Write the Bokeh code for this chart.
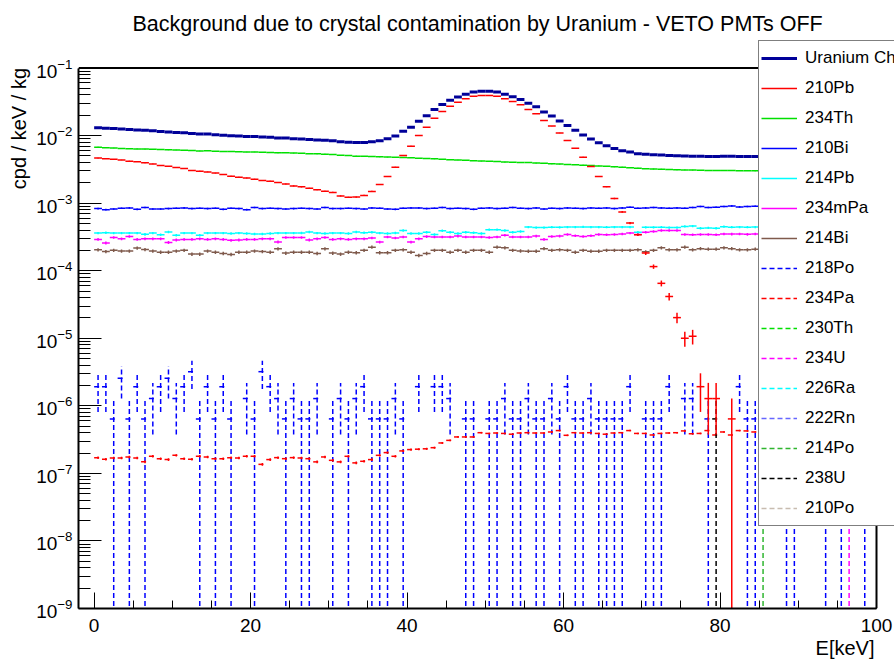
import numpy as np
from bokeh.embed import file_html
from bokeh.models import (ColumnDataSource, FixedTicker, Legend, LegendItem, Range1d,
                          SingleIntervalTicker, Title)
from bokeh.plotting import figure
from bokeh.resources import INLINE

FONT = "Liberation Sans"

# 100 bins of 1 keV between 0 and 100 keV (lower edges)
bin_lo = list(range(100))
X_MIN, X_MAX = -2.0, 100.0
Y_MIN, Y_MAX = 1e-9, 1e-1

# rate carried by one simulated event, cpd/keV/kg
event_weight = 6.4e-7
# 234Pa was simulated with far higher statistics
pa234_event_weight = 3e-10

# ---- per-isotope spectra, cpd/keV/kg ----
pb210 = [
    4.64e-3, 4.55e-3, 4.45e-3, 4.35e-3, 4.17e-3, 4.10e-3, 3.95e-3, 3.80e-3, 3.62e-3, 3.50e-3,
    3.38e-3, 3.25e-3, 3.05e-3, 2.97e-3, 2.90e-3, 2.78e-3, 2.66e-3, 2.50e-3, 2.42e-3, 2.35e-3,
    2.25e-3, 2.17e-3, 2.10e-3, 2.02e-3, 1.92e-3, 1.80e-3, 1.74e-3, 1.66e-3, 1.58e-3, 1.50e-3,
    1.44e-3, 1.28e-3, 1.22e-3, 1.23e-3, 1.30e-3, 1.49e-3, 1.89e-3, 2.48e-3, 3.41e-3, 5.08e-3,
    6.97e-3, 1.00e-2, 1.33e-2, 1.81e-2, 2.27e-2, 2.72e-2, 3.12e-2, 3.50e-2, 3.83e-2, 3.92e-2,
    3.92e-2, 3.83e-2, 3.50e-2, 3.19e-2, 2.85e-2, 2.43e-2, 2.10e-2, 1.67e-2, 1.38e-2, 1.09e-2,
    8.46e-3, 6.50e-3, 4.79e-3, 3.49e-3, 2.48e-3, 1.75e-3, 1.17e-3, 7.40e-4, 5.06e-4, 3.40e-4,
    1.82e-4, 1.15e-4, 6.50e-5, 4.15e-5, 2.02e-5, 1.00e-5, 1.07e-5, 1.92e-6, 1.28e-6, 1.28e-6,
    0.0, 6.4e-7, 0.0, 0.0, 0.0, 0.0, 0.0, 0.0, 0.0, 0.0,
    0.0, 0.0, 0.0, 0.0, 0.0, 0.0, 0.0, 0.0, 0.0, 0.0,
]

# 234Th, in units of 1e-3 cpd/keV/kg
th234_e3 = [
    6.74, 6.62, 6.55, 6.45, 6.40, 6.35, 6.30, 6.28, 6.20, 6.15,
    6.10, 6.05, 6.00, 5.92, 5.95, 5.85, 5.80, 5.82, 5.76, 5.72,
    5.70, 5.65, 5.62, 5.55, 5.58, 5.50, 5.45, 5.40, 5.36, 5.30,
    5.25, 5.12, 5.05, 4.95, 4.92, 4.88, 4.85, 4.80, 4.76, 4.72,
    4.70, 4.62, 4.58, 4.52, 4.45, 4.40, 4.35, 4.30, 4.25, 4.20,
    4.15, 4.12, 4.05, 4.02, 4.00, 3.98, 3.92, 3.88, 3.82, 3.78,
    3.74, 3.70, 3.65, 3.60, 3.55, 3.50, 3.45, 3.40, 3.35, 3.28,
    3.24, 3.20, 3.18, 3.15, 3.12, 3.10, 3.08, 3.06, 3.05, 3.04,
    3.04, 3.03, 3.02, 3.02, 3.01, 3.00, 3.00, 2.99, 2.99, 2.98,
    2.98, 2.97, 2.97, 2.96, 2.96, 2.95, 2.95, 2.95, 2.94, 2.94,
]

# 210Bi, in units of 1e-4 cpd/keV/kg
bi210_e4 = [
    8.3, 8.0, 8.2, 8.4, 8.5, 8.1, 8.6, 8.2, 8.2, 8.3,
    8.4, 8.5, 8.3, 8.4, 8.3, 8.4, 8.1, 8.4, 8.3, 8.0,
    8.6, 8.3, 8.4, 8.3, 8.2, 8.3, 8.4, 8.3, 8.2, 8.6,
    8.3, 8.3, 8.4, 8.3, 8.2, 8.5, 8.4, 8.2, 8.1, 8.4,
    8.5, 8.5, 8.3, 8.4, 8.6, 8.3, 8.4, 8.3, 8.1, 8.4,
    8.5, 8.3, 8.4, 8.6, 8.4, 8.3, 8.5, 8.2, 8.4, 8.3,
    8.5, 8.4, 8.3, 8.5, 8.4, 8.5, 8.3, 8.5, 8.7, 8.4,
    8.5, 8.6, 8.5, 8.4, 8.5, 8.4, 8.6, 8.9, 8.6, 8.7,
    8.9, 9.1, 8.8, 8.9, 9.0, 8.9, 9.0, 8.8, 9.0, 8.9,
    9.1, 8.9, 9.0, 8.9, 9.1, 9.0, 8.9, 9.1, 9.0, 9.0,
]

# 214Pb, in units of 1e-4 cpd/keV/kg
pb214_e4 = [
    3.60, 3.65, 3.60, 3.60, 3.60, 3.60, 3.45, 3.60, 3.40, 3.73,
    3.35, 3.60, 3.60, 3.35, 3.60, 3.60, 3.60, 3.55, 3.60, 3.55,
    3.50, 3.50, 3.55, 3.60, 3.60, 3.60, 3.62, 3.73, 3.60, 3.55,
    3.60, 3.60, 3.55, 3.73, 3.65, 3.72, 3.60, 3.55, 3.62, 3.94,
    3.55, 3.55, 3.72, 3.44, 3.90, 3.72, 3.55, 3.72, 3.65, 3.55,
    4.05, 4.05, 3.94, 3.72, 3.80, 4.42, 4.35, 4.35, 4.40, 4.38,
    4.42, 4.42, 4.45, 4.42, 4.42, 4.40, 4.42, 4.42, 4.42, 3.72,
    4.38, 4.38, 4.40, 4.35, 4.35, 4.52, 4.58, 4.25, 4.30, 4.25,
    4.48, 4.40, 4.42, 4.40, 4.42, 4.40, 4.44, 4.42, 4.45, 4.40,
    4.42, 4.45, 4.40, 4.44, 4.42, 4.45, 4.40, 4.42, 4.44, 4.42,
]

# 234mPa, in units of 1e-4 cpd/keV/kg
pa234m_e4 = [
    2.90, 2.57, 3.10, 2.97, 3.21, 2.90, 2.97, 2.97, 2.97, 2.62,
    2.85, 2.90, 2.90, 2.97, 2.90, 2.97, 2.90, 2.81, 2.85, 2.90,
    2.90, 2.97, 2.97, 2.66, 3.10, 3.10, 3.10, 2.85, 2.97, 3.10,
    2.90, 2.97, 2.90, 2.97, 2.97, 3.05, 2.65, 3.15, 3.05, 3.15,
    2.65, 2.97, 3.20, 3.15, 3.15, 3.15, 3.25, 3.15, 3.15, 3.15,
    3.10, 3.15, 3.35, 3.15, 3.15, 3.15, 3.25, 2.90, 3.21, 3.25,
    3.44, 3.30, 3.21, 3.30, 3.44, 3.40, 3.44, 3.50, 3.60, 3.44,
    3.70, 3.80, 3.94, 3.94, 3.94, 3.44, 3.40, 3.44, 3.44, 3.40,
    3.50, 3.48, 3.50, 3.45, 3.50, 3.46, 3.50, 3.48, 3.50, 3.46,
    3.50, 3.48, 3.52, 3.46, 3.50, 3.48, 3.50, 3.46, 3.50, 3.48,
]

# 214Bi, in units of 1e-4 cpd/keV/kg
bi214_e4 = [
    2.04, 1.92, 2.00, 1.95, 1.95, 2.16, 2.06, 1.95, 1.88, 1.88,
    1.95, 2.00, 1.76, 1.76, 1.95, 1.88, 1.80, 1.74, 1.88, 1.88,
    1.95, 1.92, 1.88, 2.11, 1.82, 1.88, 1.88, 1.88, 1.80, 2.11,
    1.82, 1.76, 1.88, 1.85, 2.00, 2.23, 1.85, 1.85, 2.00, 2.04,
    1.88, 1.68, 1.80, 2.00, 2.00, 1.88, 2.00, 1.88, 2.00, 2.00,
    1.88, 2.23, 2.18, 2.00, 1.96, 1.94, 1.94, 2.12, 2.00, 2.04,
    2.00, 1.88, 2.00, 1.94, 1.94, 2.00, 2.00, 2.00, 2.00, 2.04,
    1.90, 2.00, 2.18, 2.04, 2.04, 2.23, 2.04, 2.12, 2.08, 2.08,
    2.18, 2.12, 2.04, 2.04, 2.08, 2.10, 2.06, 2.08, 2.10, 2.06,
    2.08, 2.10, 2.06, 2.10, 2.08, 2.06, 2.10, 2.08, 2.06, 2.08,
]

# 234Pa, in units of 1e-7 cpd/keV/kg
pa234_e7 = [
    1.71, 1.62, 1.69, 1.69, 1.75, 1.69, 1.48, 1.79, 1.65, 1.60,
    1.85, 1.65, 1.62, 1.79, 1.75, 1.65, 1.65, 1.71, 1.69, 1.79,
    1.79, 1.36, 1.60, 1.71, 1.65, 1.71, 1.69, 1.65, 1.48, 1.75,
    1.56, 1.48, 1.79, 1.43, 1.51, 1.60, 1.85, 2.03, 1.79, 2.15,
    2.25, 2.28, 2.31, 2.40, 2.82, 3.08, 3.46, 3.46, 3.46, 4.00,
    3.90, 3.96, 3.90, 3.80, 3.96, 4.00, 3.96, 3.96, 4.10, 4.30,
    3.66, 4.00, 3.96, 4.00, 3.90, 3.80, 3.96, 4.00, 4.30, 3.90,
    3.90, 3.70, 3.90, 3.96, 4.00, 4.25, 3.86, 3.90, 4.30, 3.70,
    4.10, 3.70, 4.30, 4.25, 4.10, 4.00, 4.05, 3.95, 4.00, 4.05,
    4.00, 3.95, 4.05, 4.00, 4.10, 3.95, 4.00, 4.05, 4.00, 3.95,
]

# 218Po: simulated events per bin
po218_counts = [
    3, 3, 1, 4, 1, 3, 1, 2, 3, 4,
    2, 3, 5, 1, 3, 1, 3, 1, 0, 2,
    1, 5, 3, 2, 1, 2, 1, 1, 2, 0,
    1, 2, 1, 2, 3, 1, 1, 1, 2, 1,
    0, 3, 0, 3, 3, 2, 0, 1, 1, 0,
    1, 1, 2, 1, 1, 2, 1, 1, 2, 1,
    3, 1, 1, 2, 1, 1, 1, 1, 3, 0,
    1, 1, 1, 3, 0, 2, 2, 0, 1, 0,
    0, 0, 3, 1, 1, 0, 2, 0, 1, 1,
    0, 2, 0, 1, 0, 1, 0, 2, 1, 0,
]

# isotopes with only a few events: occupied bins and event counts
u238_bins, u238_counts = [79], [1]
po214_bins, po214_counts = [85], [1]
u234_bins, u234_counts = [96], [1]

LABELS = ["Uranium Chain", "210Pb", "234Th", "210Bi", "214Pb", "234mPa", "214Bi",
          "218Po", "234Pa", "230Th", "234U", "226Ra", "222Rn", "214Po", "238U", "210Po"]
COLORS = ["#000099", "#ff0000", "#00e000", "#0000ff", "#00ffff", "#ff00ff", "#7f5a4c",
          "#0000ff", "#ff0000", "#00e000", "#ff00ff", "#00ffff", "#6666ff", "#2fb52f",
          "#000000", "#c8bcb0"]
DASH = "5 3"


def sparse_to_bins(bins, counts):
    out = np.zeros(100)
    for b, c in zip(bins, counts):
        out[b] = c * event_weight
    return out


# spectra in cpd/keV/kg with their statistical errors
v_pb210 = np.array(pb210)
v_th234 = np.array(th234_e3) * 1e-3
v_bi210 = np.array(bi210_e4) * 1e-4
v_pb214 = np.array(pb214_e4) * 1e-4
v_pa234m = np.array(pa234m_e4) * 1e-4
v_bi214 = np.array(bi214_e4) * 1e-4
v_pa234 = np.array(pa234_e7) * 1e-7
v_po218 = np.array(po218_counts) * event_weight
v_u238 = sparse_to_bins(u238_bins, u238_counts)
v_po214 = sparse_to_bins(po214_bins, po214_counts)
v_u234 = sparse_to_bins(u234_bins, u234_counts)


def poisson_err(v, w=event_weight):
    return np.sqrt(np.asarray(v) * w)


members = [v_pb210, v_th234, v_bi210, v_pb214, v_pa234m, v_bi214,
           v_po218, v_pa234, v_u238, v_po214, v_u234]
errs = [poisson_err(v) for v in members]
errs[7] = poisson_err(v_pa234, pa234_event_weight)
# the chain total is the sum of all its members
v_chain = np.sum(members, axis=0)
e_chain = np.sqrt(np.sum([e ** 2 for e in errs], axis=0))

# The drawing area reaches past the axes' box (up to y=40 px and to the
# right edge) so that the legend box can overhang the frame.
FRAME_LEFT, FRAME_TOP, FRAME_W, FRAME_H = 78, 40, 816, 568
px_per_kev = 798.0 / (X_MAX - X_MIN)
px_per_dec = 540.5 / (np.log10(Y_MAX) - np.log10(Y_MIN))
x_end = X_MIN + FRAME_W / px_per_kev
y_end = Y_MAX * 10 ** ((FRAME_H - 540.5) / px_per_dec)
# distance of the axes' box top / right sides from the drawing-area edges
top_gap = FRAME_H - 540.5
right_gap = FRAME_W - 798

p = figure(frame_width=FRAME_W, frame_height=FRAME_H,
           x_range=Range1d(X_MIN, x_end), y_range=Range1d(Y_MIN, y_end),
           y_axis_type="log", output_backend="svg", toolbar_location=None,
           min_border_left=FRAME_LEFT, min_border_right=0, min_border_top=FRAME_TOP,
           min_border_bottom=51, background_fill_color="white", border_fill_color="white")
p.xgrid.visible = False
p.ygrid.visible = False
p.outline_line_color = None

# top and right sides of the axes' box
p.segment(x0=[X_MIN, X_MAX], y0=[Y_MAX, Y_MIN], x1=[X_MAX, X_MAX], y1=[Y_MAX, Y_MAX],
          line_color="black", line_width=2)


def draw_hist(values, errors, color, width, dash):
    lo = np.asarray(bin_lo, dtype=float)
    v = np.asarray(values, dtype=float)
    e = np.asarray(errors, dtype=float)
    keep = v > 0
    lo, v, e = lo[keep], v[keep], e[keep]
    low = v - e
    low = np.where(low > v * 1e-6, low, 1e-15)   # empty lower edge -> frame bottom
    src = ColumnDataSource(dict(x0=lo, x1=lo + 1, xc=lo + 0.5, y=v, ylo=low, yhi=v + e))
    p.segment(x0="x0", y0="y", x1="x1", y1="y", source=src,
              line_color=color, line_width=width, line_dash=dash)
    p.segment(x0="xc", y0="ylo", x1="xc", y1="yhi", source=src,
              line_color=color, line_width=width, line_dash=dash)


# dashed (low-rate) isotopes first, solid ones over them, total on top
draw_hist(v_po218, errs[6], COLORS[7], 1.5, DASH)
draw_hist(v_pa234, errs[7], COLORS[8], 1.5, DASH)
draw_hist(v_u234, errs[10], COLORS[10], 1.5, DASH)
draw_hist(v_po214, errs[9], COLORS[13], 1.5, DASH)
draw_hist(v_u238, errs[8], COLORS[14], 1.5, DASH)
draw_hist(v_bi214, errs[5], COLORS[6], 1.5, "solid")
draw_hist(v_pa234m, errs[4], COLORS[5], 1.5, "solid")
draw_hist(v_pb214, errs[3], COLORS[4], 1.5, "solid")
draw_hist(v_bi210, errs[2], COLORS[3], 1.5, "solid")
draw_hist(v_th234, errs[1], COLORS[2], 1.5, "solid")
draw_hist(v_pb210, errs[0], COLORS[1], 1.5, "solid")
draw_hist(v_chain, e_chain, COLORS[0], 3, "solid")

# title
p.title.text = "Background due to crystal contamination by Uranium - VETO PMTs OFF"
p.title.align = "left"
p.title.offset = 54
p.title.standoff = 9
p.title.text_font = FONT
p.title.text_font_size = "21.5px"
p.title.text_font_style = "normal"
p.title.text_color = "black"

# x axis
xa = p.xaxis[0]
xa.bounds = (X_MIN, X_MAX)
xa.ticker = SingleIntervalTicker(interval=20, num_minor_ticks=4)
xa.major_tick_in = 16
xa.major_tick_out = 0
xa.minor_tick_in = 8
xa.minor_tick_out = 0
xa.axis_line_width = 2
xa.major_tick_line_width = 1
xa.minor_tick_line_width = 1
xa.major_label_standoff = 10
xa.major_label_text_font = FONT
xa.major_label_text_font_size = "19px"
xa.major_label_text_color = "black"

# y axis
ya = p.yaxis[0]
ya.bounds = (Y_MIN, Y_MAX)
decades = list(range(1, 10))
ya.ticker = FixedTicker(ticks=[10.0 ** -k for k in decades],
                        minor_ticks=[m * 10.0 ** -k for k in range(2, 10) for m in range(2, 10)])
ya.major_tick_in = 23
ya.major_tick_out = 0
ya.minor_tick_in = 12
ya.minor_tick_out = 0
ya.axis_line_width = 2
ya.major_tick_line_width = 1
ya.minor_tick_line_width = 1
ya.major_label_standoff = 6
ya.major_label_text_font = FONT
ya.major_label_text_font_size = "19px"
ya.major_label_text_color = "black"

# axis titles, flush with the far ends of the axes
x_title = Title(text="E[keV]", align="right", offset=right_gap + 2, standoff=0,
                text_font=FONT, text_font_size="20px", text_font_style="normal",
                text_color="black")
p.add_layout(x_title, "below")
y_title = Title(text="cpd / keV / kg", align="right", offset=top_gap, standoff=7,
                text_font=FONT, text_font_size="20px", text_font_style="normal",
                text_color="black")
p.add_layout(y_title, "left")

# legend entries (one NaN point each so the sample line is drawn)
items = []
for i, (lab, col) in enumerate(zip(LABELS, COLORS)):
    r = p.line(x=[np.nan], y=[np.nan], line_color=col, line_width=3 if i == 0 else 1.5,
               line_dash="solid" if i < 7 else DASH)
    items.append(LegendItem(label=lab, renderers=[r]))
legend = Legend(items=items, location=(680, 82), orientation="vertical",
                glyph_width=36, glyph_height=30, label_height=30, label_standoff=8,
                spacing=0, padding=2, margin=0,
                border_line_color="black", border_line_width=1.5,
                background_fill_color="white", background_fill_alpha=1,
                label_text_font=FONT, label_text_font_size="17px", label_text_color="black")
p.add_layout(legend)

open("out.html", "w").write(file_html(p, INLINE))
